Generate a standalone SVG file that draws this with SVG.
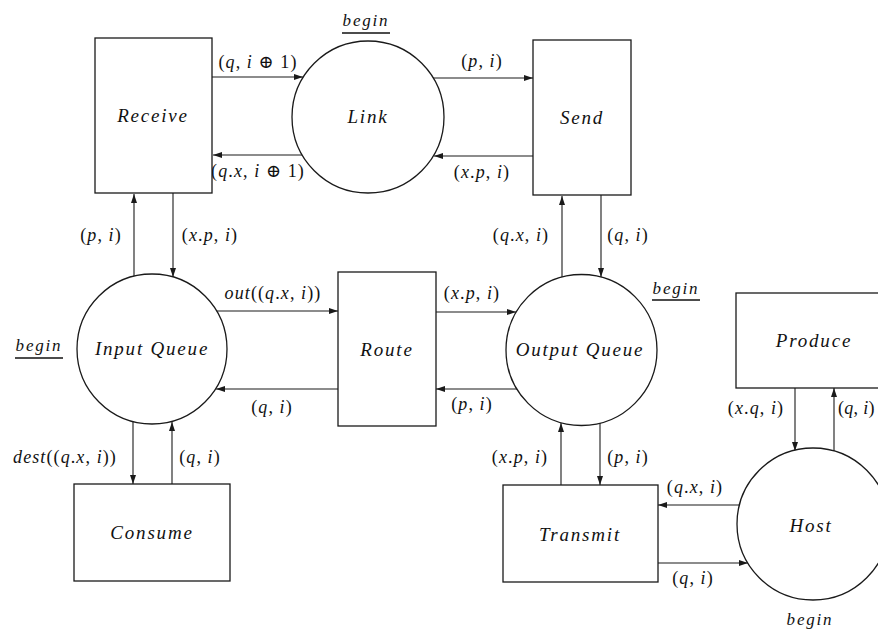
<svg xmlns="http://www.w3.org/2000/svg" width="878" height="634" viewBox="0 0 878 634">
  <style>
    .box { fill: #fff; stroke: #1a1a1a; stroke-width: 1.3; }
    .conn { fill: none; stroke: #1a1a1a; stroke-width: 1.1; marker-end: url(#arrow); }
    .name { font-family: "Liberation Serif", "DejaVu Serif", serif; font-style: italic; font-size: 19px; letter-spacing: 1.8px; text-anchor: middle; fill: #111; }
    .lbl { font-family: "Liberation Serif", "DejaVu Serif", serif; font-size: 18px; letter-spacing: 1.1px; text-anchor: middle; fill: #111; }
    .v { font-style: italic; }
    .ul { stroke: #111; stroke-width: 1.3; }
  </style>
  <defs>
    <marker id="arrow" markerUnits="userSpaceOnUse" markerWidth="9" markerHeight="6" refX="9" refY="3" orient="auto">
      <path d="M0,0 L9,3 L0,6 z" fill="#1a1a1a"/>
    </marker>
  </defs>
  <rect width="878" height="634" fill="#fff"/>

  <!-- connectors -->
  <g id="connectors">
    <path class="conn" d="M212,77 H303"/>
    <path class="conn" d="M302,155 H213"/>
    <path class="conn" d="M433,78 H533"/>
    <path class="conn" d="M533,156 H434"/>
    <path class="conn" d="M134,276 V194"/>
    <path class="conn" d="M173,193 V277"/>
    <path class="conn" d="M217,311 H338"/>
    <path class="conn" d="M338,389 H216"/>
    <path class="conn" d="M436,312 H516"/>
    <path class="conn" d="M517,389 H436"/>
    <path class="conn" d="M562,277 V196"/>
    <path class="conn" d="M601,195 V277"/>
    <path class="conn" d="M133,422 V484"/>
    <path class="conn" d="M172,484 V422"/>
    <path class="conn" d="M561,485 V423"/>
    <path class="conn" d="M600,423 V485"/>
    <path class="conn" d="M740,505 H658"/>
    <path class="conn" d="M658,563 H748"/>
    <path class="conn" d="M795,388 V451"/>
    <path class="conn" d="M834,451 V388"/>
  </g>

  <!-- connector labels -->
  <g id="labels">
    <text class="lbl" x="258" y="68">(<tspan class="v">q</tspan>, <tspan class="v">i</tspan> ⊕ 1)</text>
    <text class="lbl" x="258" y="177">(<tspan class="v">q</tspan>.<tspan class="v">x</tspan>, <tspan class="v">i</tspan> ⊕ 1)</text>
    <text class="lbl" x="482" y="67">(<tspan class="v">p</tspan>, <tspan class="v">i</tspan>)</text>
    <text class="lbl" x="482" y="178">(<tspan class="v">x</tspan>.<tspan class="v">p</tspan>, <tspan class="v">i</tspan>)</text>
    <text class="lbl" x="101" y="241">(<tspan class="v">p</tspan>, <tspan class="v">i</tspan>)</text>
    <text class="lbl" x="210" y="241">(<tspan class="v">x</tspan>.<tspan class="v">p</tspan>, <tspan class="v">i</tspan>)</text>
    <text class="lbl" x="273" y="299"><tspan class="v">out</tspan>((<tspan class="v">q</tspan>.<tspan class="v">x</tspan>, <tspan class="v">i</tspan>))</text>
    <text class="lbl" x="272" y="413">(<tspan class="v">q</tspan>, <tspan class="v">i</tspan>)</text>
    <text class="lbl" x="472" y="299">(<tspan class="v">x</tspan>.<tspan class="v">p</tspan>, <tspan class="v">i</tspan>)</text>
    <text class="lbl" x="472" y="410">(<tspan class="v">p</tspan>, <tspan class="v">i</tspan>)</text>
    <text class="lbl" x="521" y="241">(<tspan class="v">q</tspan>.<tspan class="v">x</tspan>, <tspan class="v">i</tspan>)</text>
    <text class="lbl" x="628" y="241">(<tspan class="v">q</tspan>, <tspan class="v">i</tspan>)</text>
    <text class="lbl" x="65" y="463"><tspan class="v">dest</tspan>((<tspan class="v">q</tspan>.<tspan class="v">x</tspan>, <tspan class="v">i</tspan>))</text>
    <text class="lbl" x="200" y="463">(<tspan class="v">q</tspan>, <tspan class="v">i</tspan>)</text>
    <text class="lbl" x="520" y="463">(<tspan class="v">x</tspan>.<tspan class="v">p</tspan>, <tspan class="v">i</tspan>)</text>
    <text class="lbl" x="628" y="463">(<tspan class="v">p</tspan>, <tspan class="v">i</tspan>)</text>
    <text class="lbl" x="695" y="493">(<tspan class="v">q</tspan>.<tspan class="v">x</tspan>, <tspan class="v">i</tspan>)</text>
    <text class="lbl" x="693" y="584">(<tspan class="v">q</tspan>, <tspan class="v">i</tspan>)</text>
    <text class="lbl" x="756" y="414">(<tspan class="v">x</tspan>.<tspan class="v">q</tspan>, <tspan class="v">i</tspan>)</text>
    <text class="lbl" x="838" y="414" style="text-anchor:start;letter-spacing:0.3px">(<tspan class="v">q</tspan>, <tspan class="v">i</tspan>)</text>
  </g>

  <!-- initial-state markers -->
  <g id="begin-marks">
    <text class="name" x="366" y="26" style="font-size:17px">begin</text>
    <line class="ul" x1="342" y1="33" x2="390" y2="33"/>
    <text class="name" x="39" y="351" style="font-size:17px">begin</text>
    <line class="ul" x1="15" y1="358" x2="63" y2="358"/>
    <text class="name" x="676" y="294" style="font-size:17px">begin</text>
    <line class="ul" x1="652" y1="300" x2="700" y2="300"/>
    <text class="name" x="810" y="625" style="font-size:17px">begin</text>
  </g>

  <!-- nodes -->
  <g id="receive">
    <rect class="box" x="95" y="38" width="117" height="155"/>
    <text class="name" x="153" y="122">Receive</text>
  </g>
  <g id="link">
    <circle class="box" cx="368" cy="117" r="76"/>
    <text class="name" x="368" y="123">Link</text>
  </g>
  <g id="send">
    <rect class="box" x="533" y="40" width="98" height="155"/>
    <text class="name" x="582" y="124">Send</text>
  </g>
  <g id="input-queue">
    <circle class="box" cx="152" cy="349" r="75"/>
    <text class="name" x="152" y="355">Input Queue</text>
  </g>
  <g id="route">
    <rect class="box" x="338" y="272" width="98" height="154"/>
    <text class="name" x="387" y="356">Route</text>
  </g>
  <g id="output-queue">
    <circle class="box" cx="581.5" cy="350" r="75.5"/>
    <text class="name" x="580" y="356">Output Queue</text>
  </g>
  <g id="consume">
    <rect class="box" x="74" y="484" width="156" height="97"/>
    <text class="name" x="152" y="539">Consume</text>
  </g>
  <g id="transmit">
    <rect class="box" x="503" y="485" width="155" height="97"/>
    <text class="name" x="580" y="541">Transmit</text>
  </g>
  <g id="produce">
    <rect class="box" x="736" y="293" width="150" height="95"/>
    <text class="name" x="814" y="347">Produce</text>
  </g>
  <g id="host">
    <circle class="box" cx="813" cy="524" r="76"/>
    <text class="name" x="811" y="532">Host</text>
  </g>
</svg>
